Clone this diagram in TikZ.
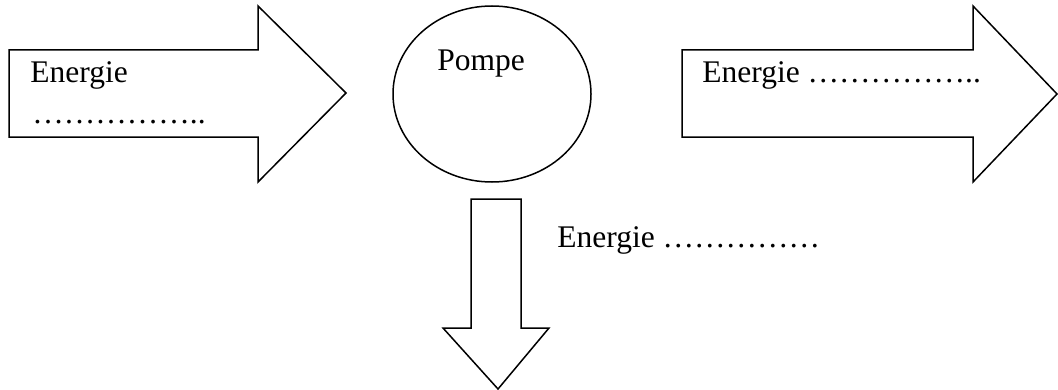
\documentclass[tikz,border=0pt]{standalone}
\usepackage{fontspec}
\setmainfont{Liberation Serif}
\usetikzlibrary{shapes.geometric}
\begin{document}
\begin{tikzpicture}[x=0.5pt,y=-0.5pt,
  shapeline/.style={draw=black,line width=0.75pt,line join=miter},
  lbl/.style={anchor=base west,inner sep=0pt,font=\fontsize{15.75}{19}\selectfont}]
\useasboundingbox (0,0) rectangle (1058,390);
% left arrow
\draw[shapeline] (9,50) -- (258,50) -- (258,6) -- (346,93) -- (258,182) -- (258,137) -- (9,137) -- cycle;
% right arrow
\draw[shapeline] (682,50) -- (973,50) -- (973,6) -- (1057,94) -- (973,182) -- (973,137) -- (682,137) -- cycle;
% down arrow
\draw[shapeline] (471,199) -- (521,199) -- (521,328) -- (549,328) -- (498,389) -- (443,328) -- (471,328) -- cycle;
% pump ellipse
\node[shapeline,ellipse,minimum width=99pt,minimum height=88pt,inner sep=0pt] (pompe) at (492,94) {};
\node[lbl] (pompetxt) at (437,70) {Pompe};
% texts
\node[lbl] (e1) at (30,83) {Energie};
\node[lbl] (e1d) at (32,123) {……………..};
\node[lbl] (e2) at (702,83) {Energie ……………..};
\node[lbl] (e3) at (557,247) {Energie ……………};
\end{tikzpicture}
\end{document}
